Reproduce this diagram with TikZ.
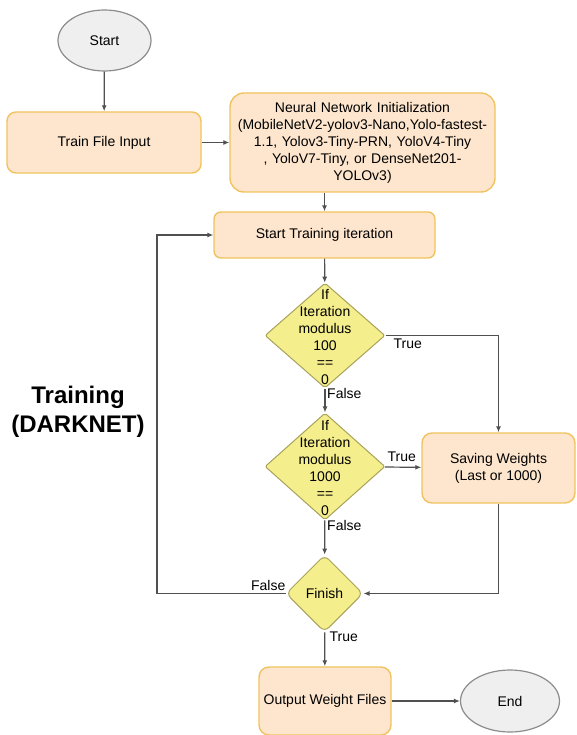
\documentclass[tikz,border=0pt]{standalone}
\usepackage{fontspec}
\setmainfont{Liberation Sans}
\usepackage{tikz}
\usetikzlibrary{arrows.meta, positioning, shapes.geometric}
\definecolor{fboxfill}{HTML}{FDE6CD}
\definecolor{fboxline}{HTML}{F0C35E}
\definecolor{fdecfill}{HTML}{F5EE8C}
\definecolor{fdecline}{HTML}{A9A25A}
\definecolor{ftermfill}{HTML}{EFEFEF}
\definecolor{ftermline}{HTML}{8C8C8C}
\definecolor{fedge}{HTML}{505050}
\newcommand{\flowfont}{\fontsize{14}{17}\selectfont}

\begin{document}
\begin{tikzpicture}[x=1pt, y=-1pt,
  term/.style={ellipse, draw=ftermline, fill=ftermfill, line width=1.2pt,
    inner sep=0pt, font=\flowfont},
  proc/.style={rectangle, draw=fboxline, fill=fboxfill, line width=1.4pt,
    inner sep=2pt, align=center, font=\flowfont},
  decision/.style={diamond, draw=fdecline, fill=fdecfill, line width=1pt,
    inner sep=0pt, rounded corners=2pt},
  dtext/.style={align=center, font=\flowfont, inner sep=0pt},
  lbl/.style={font=\flowfont, inner sep=1pt},
  arr/.style={draw=fedge, line width=1.2pt, -{Latex[length=6pt, width=5pt]}}
]

  \useasboundingbox (0,0) rectangle (577,735);

  %% Start and input
  \node[term, minimum width=93pt, minimum height=61pt] (start) at (104.5,40.5) {Start};
  \node[proc, rounded corners=9pt, minimum width=194pt, minimum height=61pt]
    (trainin) at (104,142.5) {Train File Input};
  \node[proc, rounded corners=14pt, minimum width=265pt, minimum height=99pt, text width=258pt]
    (nninit) at (362.5,142.5)
    {Neural Network Initialization\\(MobileNetV2-yolov3-Nano,Yolo-fastest-\\1.1, Yolov3-Tiny-PRN, YoloV4-Tiny\\, YoloV7-Tiny, or DenseNet201-\\YOLOv3)};
  \node[proc, rounded corners=7pt, minimum width=221pt, minimum height=46pt]
    (starttrain) at (324.5,235) {Start Training iteration};

  %% Decisions
  \node[decision, minimum width=120pt, minimum height=105pt] (dec1) at (325,335.5) {};
  \node[dtext] (dec1txt) at (325,337) {If\\Iteration\\modulus\\100\\==\\0};
  \node[decision, minimum width=120pt, minimum height=107pt] (dec2) at (325,466.5) {};
  \node[dtext] (dec2txt) at (325,468) {If\\Iteration\\modulus\\1000\\==\\0};
  \node[proc, rounded corners=10pt, minimum width=153pt, minimum height=70pt]
    (savew) at (498.5,468) {Saving Weights\\(Last or 1000)};
  \node[decision, rounded corners=6pt, minimum width=77pt, minimum height=77pt]
    (finish) at (324.5,593.5) {};
  \node[dtext] (finishtxt) at (finish) {Finish};

  %% Output and end
  \node[proc, rounded corners=10pt, minimum width=132pt, minimum height=68pt]
    (output) at (325,701) {Output Weight Files};
  \node[term, minimum width=99pt, minimum height=62pt] (endn) at (510,701) {End};

  \node[font=\fontsize{24}{29}\selectfont\bfseries, align=center] (trainlbl)
    at (78,412) {Training\\(DARKNET)};

  \coordinate (loopx) at (157,594);

  %% Connectors
  \draw[arr] (start) -- (trainin);
  \draw[arr] (trainin) -- (nninit);
  \draw[arr] (nninit.south -| starttrain.north) -- (starttrain.north);
  \draw[arr] (starttrain) -- (dec1);
  \draw[arr] (dec1.east) -| (savew.north);
  \draw[arr] (dec1) -- (dec2);
  \draw[arr] (dec2) -- (savew);
  \draw[arr] (dec2) -- (finish);
  \draw[arr] (savew.south) |- (finish.east);
  \draw[arr] (finish.west) -| (loopx |- starttrain.west) -- (starttrain.west);
  \draw[arr] (finish) -- (output);
  \draw[arr] (output) -- (endn);

  %% Branch labels
  \node[lbl, anchor=north west] (t1) at ([xshift=7pt, yshift=-2pt]dec1.east) {True};
  \node[lbl, anchor=north west] (f1) at ([xshift=1pt, yshift=1pt]dec1.south) {False};
  \node[lbl, anchor=south west] (t2) at ([xshift=1pt, yshift=4pt]dec2.east) {True};
  \node[lbl, anchor=north west] (f2) at ([xshift=1pt, yshift=1pt]dec2.south) {False};
  \node[lbl, anchor=south east] (f3) at ([xshift=1pt, yshift=2pt]finish.west) {False};
  \node[lbl, anchor=north west] (t3) at ([xshift=4pt, yshift=2pt]finish.south) {True};

\end{tikzpicture}
\end{document}
